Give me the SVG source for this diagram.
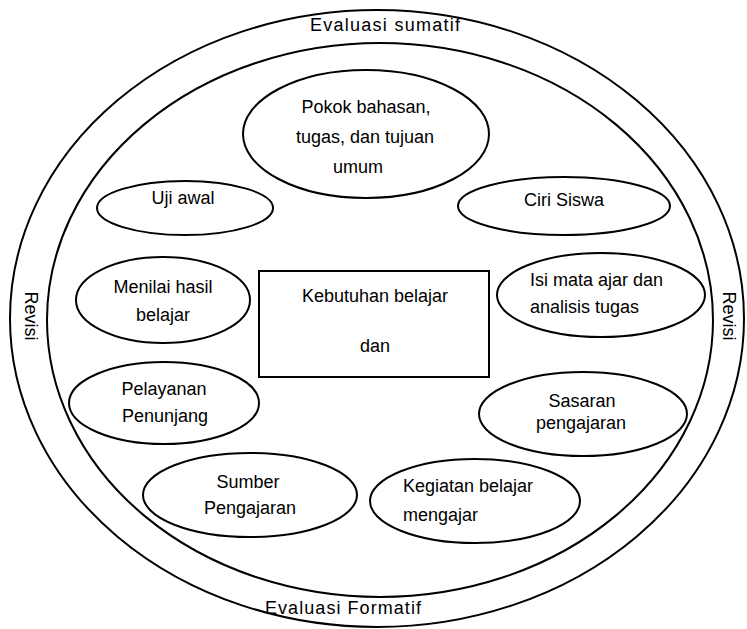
<svg xmlns="http://www.w3.org/2000/svg" width="747" height="629" viewBox="0 0 747 629">
<style>
.ln{fill:none;stroke:#000;stroke-width:2}
.nd{fill:#fff;stroke:#000;stroke-width:2}
text{font-family:"Liberation Sans",Arial,sans-serif;font-size:18px;fill:#000}
.c{text-anchor:middle}
</style>
<rect width="747" height="629" fill="#fff"/>
<g id="rings">
<ellipse class="ln" cx="377" cy="318.5" rx="367" ry="308.5"/>
<ellipse class="ln" cx="380" cy="320" rx="333" ry="277"/>
<text class="c" x="385" y="31" textLength="150" lengthAdjust="spacing">Evaluasi sumatif</text>
<text class="c" x="343" y="614" textLength="156" lengthAdjust="spacing">Evaluasi Formatif</text>
<text class="c" transform="translate(25,316) rotate(90)">Revisi</text>
<text class="c" transform="translate(723,316) rotate(90)">Revisi</text>
</g>
<g id="connectors"></g>
<g id="pokok">
<ellipse class="nd" cx="366" cy="134" rx="123" ry="64"/>
<text class="c" x="366" y="113">Pokok bahasan,</text>
<text class="c" x="365" y="143">tugas, dan tujuan</text>
<text class="c" x="358" y="173">umum</text>
</g>
<g id="uji">
<ellipse class="nd" cx="185" cy="208" rx="88" ry="27"/>
<text class="c" x="183" y="204">Uji awal</text>
</g>
<g id="ciri">
<ellipse class="nd" cx="564" cy="206" rx="106" ry="29"/>
<text class="c" x="564" y="206">Ciri Siswa</text>
</g>
<g id="menilai">
<ellipse class="nd" cx="163" cy="300" rx="87" ry="43"/>
<text class="c" x="163" y="293">Menilai hasil</text>
<text class="c" x="163" y="321">belajar</text>
</g>
<g id="kebutuhan">
<rect class="nd" x="259" y="271" width="230" height="106"/>
<text class="c" x="375" y="302">Kebutuhan belajar</text>
<text class="c" x="375" y="352">dan</text>
</g>
<g id="isi">
<ellipse class="nd" cx="601" cy="295" rx="104" ry="42"/>
<text x="530" y="286">Isi mata ajar dan</text>
<text x="530" y="313">analisis tugas</text>
</g>
<g id="pelayanan">
<ellipse class="nd" cx="164" cy="403" rx="95" ry="41"/>
<text class="c" x="164" y="395">Pelayanan</text>
<text class="c" x="165" y="422">Penunjang</text>
</g>
<g id="sasaran">
<ellipse class="nd" cx="583" cy="414" rx="104" ry="42"/>
<text class="c" x="582" y="407">Sasaran</text>
<text class="c" x="581" y="429">pengajaran</text>
</g>
<g id="sumber">
<ellipse class="nd" cx="250" cy="495" rx="107" ry="42"/>
<text class="c" x="248" y="488">Sumber</text>
<text class="c" x="250" y="514">Pengajaran</text>
</g>
<g id="kegiatan">
<ellipse class="nd" cx="475" cy="501" rx="105" ry="42"/>
<text x="403" y="492">Kegiatan belajar</text>
<text x="403" y="521">mengajar</text>
</g>
</svg>
